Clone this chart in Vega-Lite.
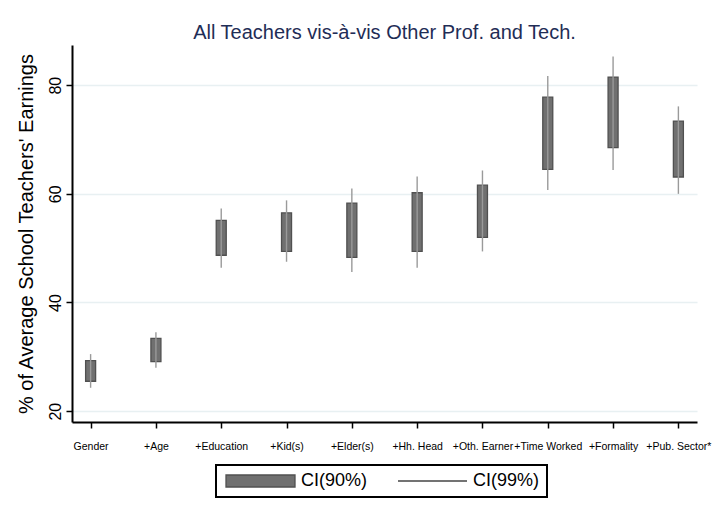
{
  "$schema": "https://vega.github.io/schema/vega-lite/v6.json",
  "width": 625,
  "height": 377,
  "autosize": {"type": "none"},
  "padding": {"left": 72, "top": 45, "right": 16, "bottom": 98},
  "background": "white",
  "title": {
    "text": "All Teachers vis-à-vis Other Prof. and Tech.",
    "fontSize": 20,
    "font": "Liberation Sans",
    "fontWeight": "normal",
    "color": "#1f2d56",
    "anchor": "middle",
    "offset": 2
  },
  "datasets": {
    "ci": [
      {"step": "Gender", "lo90": 25.5, "hi90": 29.3, "lo99": 24.3, "hi99": 30.5},
      {"step": "+Age", "lo90": 29.1, "hi90": 33.4, "lo99": 28.0, "hi99": 34.5},
      {"step": "+Education", "lo90": 48.7, "hi90": 55.1, "lo99": 46.4, "hi99": 57.3},
      {"step": "+Kid(s)", "lo90": 49.4, "hi90": 56.5, "lo99": 47.5, "hi99": 58.8},
      {"step": "+Elder(s)", "lo90": 48.3, "hi90": 58.3, "lo99": 45.6, "hi99": 61.0},
      {"step": "+Hh. Head", "lo90": 49.4, "hi90": 60.2, "lo99": 46.4, "hi99": 63.2},
      {"step": "+Oth. Earner", "lo90": 52.0, "hi90": 61.6, "lo99": 49.4, "hi99": 64.3},
      {"step": "+Time Worked", "lo90": 64.5, "hi90": 77.8, "lo99": 60.7, "hi99": 81.7},
      {"step": "+Formality", "lo90": 68.5, "hi90": 81.5, "lo99": 64.4, "hi99": 85.3},
      {"step": "+Pub. Sector*", "lo90": 63.1, "hi90": 73.4, "lo99": 60.0, "hi99": 76.1}
    ],
    "keys": [
      {"series": "CI(90%)"},
      {"series": "CI(99%)"}
    ]
  },
  "layer": [
    {
      "data": {"name": "ci"},
      "mark": {"type": "bar", "size": 10, "fill": "#707070", "stroke": "#505050", "strokeWidth": 1.3},
      "encoding": {
        "x": {
          "field": "step",
          "type": "nominal",
          "sort": null,
          "scale": {"type": "point", "padding": 0.285},
          "axis": {
            "title": null,
            "labelAngle": 0,
            "labelFontSize": 10.5,
            "labelColor": "black",
            "labelPadding": 13,
            "labelOverlap": false,
            "tickSize": 6,
            "tickColor": "black",
            "tickWidth": 1.5,
            "domainColor": "black",
            "domainWidth": 2,
            "grid": false
          }
        },
        "y": {
          "field": "lo90",
          "type": "quantitative",
          "scale": {"domain": [18, 87.4], "nice": false, "zero": false},
          "axis": {
            "title": "% of Average School Teachers' Earnings",
            "titleFontSize": 20,
            "titleFontWeight": "normal",
            "titleColor": "black",
            "titlePadding": 11,
            "values": [20, 40, 60, 80],
            "labelAngle": -90,
            "labelAlign": "center",
            "labelBaseline": "alphabetic",
            "labelFontSize": 16,
            "labelColor": "black",
            "labelPadding": 6,
            "tickSize": 6,
            "tickColor": "black",
            "tickWidth": 1.5,
            "domainColor": "black",
            "domainWidth": 2,
            "grid": true,
            "gridColor": "#e8f0f2",
            "gridWidth": 1.6
          }
        },
        "y2": {"field": "hi90"}
      }
    },
    {
      "data": {"name": "ci"},
      "mark": {"type": "rule", "strokeWidth": 1.4, "color": "#9a9a9a"},
      "encoding": {
        "x": {"field": "step", "type": "nominal", "sort": null},
        "y": {"field": "lo99", "type": "quantitative"},
        "y2": {"field": "hi99"}
      }
    },
    {
      "data": {"name": "keys"},
      "mark": {"type": "point", "filled": true, "size": 0, "fill": "#707070", "strokeWidth": 1.3},
      "encoding": {
        "stroke": {
          "field": "series",
          "type": "nominal",
          "scale": {"domain": ["CI(90%)", "CI(99%)"], "range": ["#505050", "#444444"]}
        },
        "shape": {
          "field": "series",
          "type": "nominal",
          "scale": {"domain": ["CI(90%)", "CI(99%)"], "range": ["M-1,-1H10.5V1H-1Z", "M-1,0H10.5"]},
          "legend": {
            "title": null,
            "orient": "none",
            "legendX": 144,
            "legendY": 420,
            "direction": "horizontal",
            "symbolSize": 144,
            "symbolFillColor": "#707070",
            "symbolStrokeWidth": 1.3,
            "symbolOpacity": 1,
            "labelFontSize": 18,
            "labelColor": "black",
            "labelOffset": 60,
            "columnPadding": 27,
            "padding": 7,
            "strokeColor": "black"
          }
        }
      }
    }
  ],
  "config": {
    "view": {"stroke": null},
    "font": "Liberation Sans",
    "legend": {"strokeWidth": 2}
  }
}
